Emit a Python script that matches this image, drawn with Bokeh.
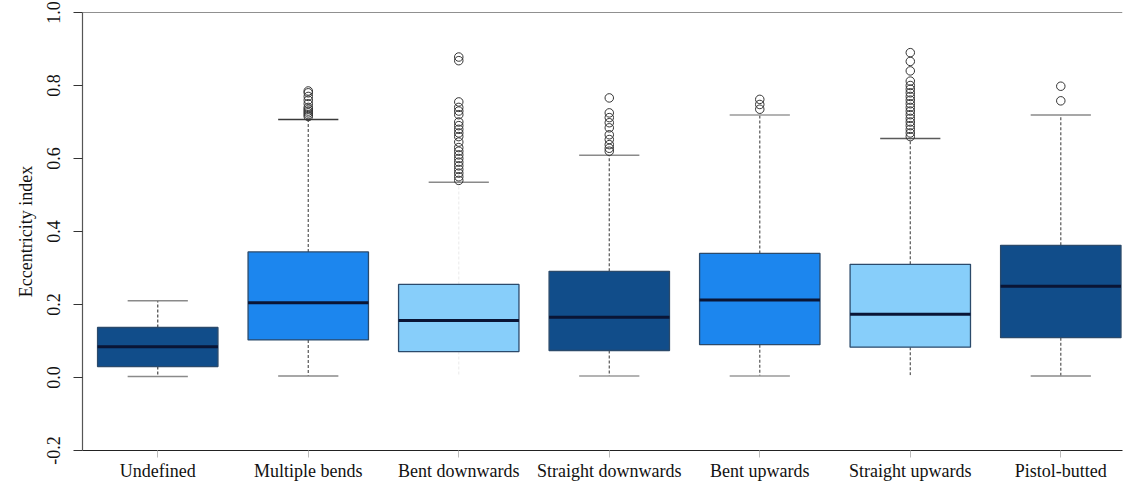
import math
from bokeh.plotting import figure
from bokeh.models import FixedTicker, Span, ColumnDataSource
from bokeh.embed import file_html
from bokeh.resources import INLINE

# ---- data ----
categories = ["Undefined", "Multiple bends", "Bent downwards", "Straight downwards",
              "Bent upwards", "Straight upwards", "Pistol-butted"]
lower_whisker = [0.003, 0.004, 0.004, 0.004, 0.004, 0.004, 0.004]
q1 = [0.030, 0.103, 0.071, 0.074, 0.090, 0.083, 0.109]
median = [0.084, 0.205, 0.156, 0.165, 0.212, 0.173, 0.250]
q3 = [0.137, 0.344, 0.255, 0.291, 0.340, 0.310, 0.362]
upper_whisker = [0.210, 0.707, 0.535, 0.609, 0.719, 0.655, 0.719]
outliers = [
    [],
    [0.715, 0.72, 0.725, 0.73, 0.735, 0.74, 0.75, 0.76, 0.77, 0.78, 0.785],
    [0.878, 0.868, 0.755, 0.74, 0.73, 0.72, 0.70, 0.69, 0.68, 0.67, 0.66, 0.645,
     0.63, 0.62, 0.61, 0.60, 0.59, 0.58, 0.57, 0.56, 0.55, 0.54],
    [0.766, 0.725, 0.712, 0.698, 0.684, 0.665, 0.652, 0.638, 0.628, 0.62],
    [0.735, 0.748, 0.762],
    [0.890, 0.866, 0.840, 0.812, 0.80, 0.79, 0.78, 0.77, 0.76, 0.75, 0.74, 0.73,
     0.72, 0.71, 0.70, 0.69, 0.68, 0.67, 0.66],
    [0.798, 0.758],
]
box_colors = ["#114D8A", "#1C86EE", "#87CEFA", "#114D8A", "#1C86EE", "#87CEFA", "#114D8A"]
whisker_colors = ["#444444", "#555555", "#eeeeee", "#555555", "#555555", "#555555", "#555555"]
upper_cap_colors = ["#8a8a8a", "#3a3a3a", "#8a8a8a", "#8a8a8a", "#9a9a9a", "#5a5a5a", "#8a8a8a"]
lower_cap_colors = ["#8a8a8a", "#8a8a8a", "#ffffff", "#9a9a9a", "#9a9a9a", "#ffffff", "#8a8a8a"]
y_ticks = [-0.2, 0.0, 0.2, 0.4, 0.6, 0.8, 1.0]

FONT = "Liberation Serif"
xs = list(range(1, len(categories) + 1))

p = figure(width=1123, height=486, output_backend="svg", toolbar_location=None,
           x_range=(0.5, 7.41), y_range=(-0.2, 1.0),
           min_border_left=82, min_border_top=12, min_border_bottom=36, min_border_right=1)
p.outline_line_color = None
p.xgrid.visible = False
p.ygrid.visible = False
p.background_fill_color = "white"
p.border_fill_color = "white"

# top border
p.add_layout(Span(location=1.0, dimension="width", line_color="#222222", line_width=1.2))

box_src = ColumnDataSource(dict(x=xs, q1=q1, q3=q3, med=median, lo=lower_whisker, hi=upper_whisker,
                                color=box_colors, wcol=whisker_colors, ucap=upper_cap_colors,
                                lcap=lower_cap_colors,
                                xl=[x - 0.2 for x in xs], xr=[x + 0.2 for x in xs],
                                bl=[x - 0.4 for x in xs], br=[x + 0.4 for x in xs]))

# whiskers (dashed)
p.segment(x0="x", y0="q3", x1="x", y1="hi", source=box_src, line_color="wcol",
          line_dash="3 2", line_width=1.2)
p.segment(x0="x", y0="q1", x1="x", y1="lo", source=box_src, line_color="wcol",
          line_dash="3 2", line_width=1.2)
# caps
p.segment(x0="xl", y0="hi", x1="xr", y1="hi", source=box_src, line_color="ucap", line_width=1.5)
p.segment(x0="xl", y0="lo", x1="xr", y1="lo", source=box_src, line_color="lcap", line_width=1.5)

# boxes
p.vbar(x="x", width=0.8, bottom="q1", top="q3", source=box_src, fill_color="color",
       line_color="#2B4A6B", line_width=1.3)
# medians
p.segment(x0="bl", y0="med", x1="br", y1="med", source=box_src, line_color="#0A1535", line_width=3)

# outliers
ox, oy = [], []
for x, vals in zip(xs, outliers):
    for v in vals:
        ox.append(x)
        oy.append(v)
p.scatter(ox, oy, marker="circle", size=8.5, fill_color=None, line_color="#333333", line_width=1)

# axes
p.xaxis.ticker = FixedTicker(ticks=xs)
p.xaxis.major_label_overrides = {x: c for x, c in zip(xs, categories)}
p.xaxis.axis_line_color = "#222222"
p.xaxis.axis_line_width = 1.2
p.xaxis.major_tick_line_color = "#bbbbbb"
p.xaxis.major_tick_out = 7
p.xaxis.major_tick_in = 0
p.xaxis.minor_tick_line_color = None
p.xaxis.major_label_standoff = 3
p.xaxis.major_label_text_font = FONT
p.xaxis.major_label_text_font_size = "18px"
p.xaxis.major_label_text_color = "#111111"

p.yaxis.ticker = FixedTicker(ticks=y_ticks)
p.yaxis.major_label_overrides = {t: f"{t:.1f}" for t in y_ticks}
p.yaxis.major_label_orientation = "vertical"
p.yaxis.axis_line_color = "#555555"
p.yaxis.axis_line_width = 1.2
p.yaxis.major_tick_line_color = "#333333"
p.yaxis.major_tick_out = 9
p.yaxis.major_tick_in = 0
p.yaxis.minor_tick_line_color = None
p.yaxis.major_label_standoff = 14
p.yaxis.major_label_text_font = FONT
p.yaxis.major_label_text_font_size = "18px"
p.yaxis.major_label_text_color = "#111111"
p.yaxis.axis_label = "Eccentricity index"
p.yaxis.axis_label_text_font = FONT
p.yaxis.axis_label_text_font_style = "normal"
p.yaxis.axis_label_text_font_size = "18px"
p.yaxis.axis_label_text_color = "#111111"
p.yaxis.axis_label_standoff = 8

open("out.html", "w").write(file_html(p, INLINE))
